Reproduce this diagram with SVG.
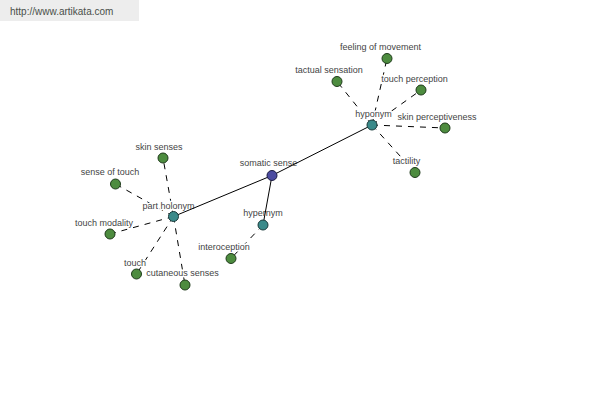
<svg xmlns="http://www.w3.org/2000/svg" width="600" height="400" viewBox="0 0 600 400">
<style>
.lbl{font-family:"Liberation Sans",Arial,sans-serif;font-size:9px;fill:#444;text-anchor:middle;stroke:#fff;stroke-width:3px;paint-order:stroke;stroke-linejoin:round}
.dash{stroke:#000;stroke-width:1;stroke-dasharray:6,6;fill:none}
.solid{stroke:#000;stroke-width:1;fill:none}
.leaf{fill:#4d8c3f;stroke:#1e3a1a;stroke-width:1}
.hub{fill:#3a8a8a;stroke:#1a3a3a;stroke-width:1}
.root{fill:#4b4ba0;stroke:#1a1a40;stroke-width:1}
</style>
<rect x="0" y="0" width="600" height="400" fill="#fff"/>
<rect x="0" y="0" width="139" height="21" fill="#ededed"/>
<text x="10" y="15" font-family="Liberation Sans,Arial,sans-serif" font-size="10" fill="#4a4f4a">http://www.artikata.com</text>
<g id="connectors">
<line class="dash" x1="372" y1="125" x2="387" y2="58.5"/>
<line class="dash" x1="372" y1="125" x2="337" y2="81.5"/>
<line class="dash" x1="372" y1="125" x2="421" y2="90"/>
<line class="dash" x1="372" y1="125" x2="445" y2="128"/>
<line class="dash" x1="372" y1="125" x2="415" y2="172.5"/>
<line class="dash" x1="173.5" y1="216.5" x2="163" y2="158"/>
<line class="dash" x1="173.5" y1="216.5" x2="115.5" y2="184"/>
<line class="dash" x1="173.5" y1="216.5" x2="110" y2="234"/>
<line class="dash" x1="173.5" y1="216.5" x2="136.5" y2="274"/>
<line class="dash" x1="173.5" y1="216.5" x2="185" y2="285"/>
<line class="dash" x1="263" y1="225" x2="231" y2="258.5"/>
</g>
<g id="labels">
<text class="lbl" x="380.5" y="50">feeling of movement</text>
<text class="lbl" x="329" y="72.5">tactual sensation</text>
<text class="lbl" x="414.5" y="81.5">touch perception</text>
<text class="lbl" x="437" y="120">skin perceptiveness</text>
<text class="lbl" x="406.5" y="163.5">tactility</text>
<text class="lbl" x="159" y="150">skin senses</text>
<text class="lbl" x="110" y="175">sense of touch</text>
<text class="lbl" x="104" y="226">touch modality</text>
<text class="lbl" x="135" y="265.5">touch</text>
<text class="lbl" x="182.5" y="276">cutaneous senses</text>
<text class="lbl" x="224" y="249.5">interoception</text>
<text class="lbl" x="373.5" y="117">hyponym</text>
<text class="lbl" x="168.5" y="208.5">part holonym</text>
<text class="lbl" x="263" y="216">hypernym</text>
<text class="lbl" x="268.5" y="166">somatic sense</text>
</g>
<g id="solid-connectors">
<line class="solid" x1="272" y1="175.5" x2="372" y2="125"/>
<line class="solid" x1="272" y1="175.5" x2="173.5" y2="216.5"/>
<line class="solid" x1="272" y1="175.5" x2="263" y2="225"/>
</g>
<g id="node-feeling-of-movement"><circle class="leaf" cx="387" cy="58.5" r="5"/></g>
<g id="node-tactual-sensation"><circle class="leaf" cx="337" cy="81.5" r="5"/></g>
<g id="node-touch-perception"><circle class="leaf" cx="421" cy="90" r="5"/></g>
<g id="node-skin-perceptiveness"><circle class="leaf" cx="445" cy="128" r="5"/></g>
<g id="node-tactility"><circle class="leaf" cx="415" cy="172.5" r="5"/></g>
<g id="node-skin-senses"><circle class="leaf" cx="163" cy="158" r="5"/></g>
<g id="node-sense-of-touch"><circle class="leaf" cx="115.5" cy="184" r="5"/></g>
<g id="node-touch-modality"><circle class="leaf" cx="110" cy="234" r="5"/></g>
<g id="node-touch"><circle class="leaf" cx="136.5" cy="274" r="5"/></g>
<g id="node-cutaneous-senses"><circle class="leaf" cx="185" cy="285" r="5"/></g>
<g id="node-interoception"><circle class="leaf" cx="231" cy="258.5" r="5"/></g>
<g id="node-hyponym"><circle class="hub" cx="372" cy="125" r="5"/></g>
<g id="node-part-holonym"><circle class="hub" cx="173.5" cy="216.5" r="5"/></g>
<g id="node-hypernym"><circle class="hub" cx="263" cy="225" r="5"/></g>
<g id="node-somatic-sense"><circle class="root" cx="272" cy="175.5" r="5"/></g>
</svg>
